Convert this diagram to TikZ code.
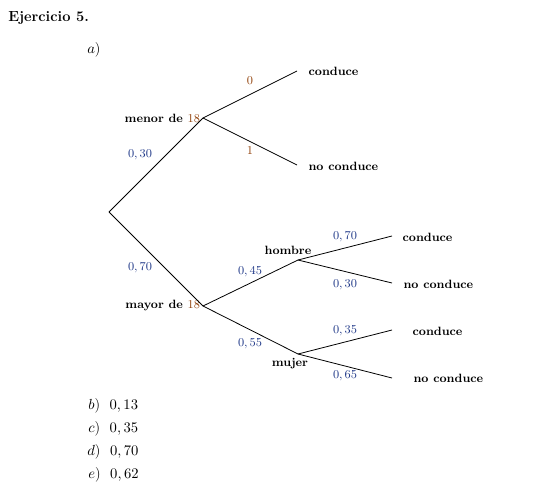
\documentclass[tikz,border=0pt]{standalone}
\usepackage{tikz}
\usetikzlibrary{positioning}
\definecolor{azul}{RGB}{30,55,135}
\definecolor{marron}{RGB}{145,65,10}
\tikzset{
  rama/.style={semithick},
  suceso/.style={font=\small\bfseries, inner sep=1pt},
  prob/.style={font=\small, text=azul, inner sep=1pt},
  probm/.style={font=\small, text=marron, inner sep=1pt},
  item/.style={anchor=west, inner sep=0pt, font=\fontsize{11}{13}\selectfont}
}
\begin{document}
\begin{tikzpicture}[x=0.75pt, y=-0.75pt]
        \useasboundingbox (0,0) rectangle (552,489);

        % Titulo
        \node (titulo) [anchor=west, font=\fontsize{11}{13}\selectfont\bfseries, inner sep=0pt] at (8,18) {Ejercicio 5.};
        \node (a) [item] at (87,50) {$a$)};

        % Nodos del arbol
        \coordinate (raiz) at (109,212);
        \coordinate (menor) at (203,118);
        \coordinate (mayor) at (203,306);
        \coordinate (hombre) at (298,260);
        \coordinate (mujer) at (298,354);
        \coordinate (c1) at (297,71);
        \coordinate (n1) at (297,165);
        \coordinate (c2) at (392,236);
        \coordinate (n2) at (392,283);
        \coordinate (c3) at (392,330);
        \coordinate (n3) at (392,378);

        % Etiquetas de sucesos
        \node (tmenor) [suceso, left=1pt of menor] {menor de \textcolor{marron}{$18$}};
        \node (tmayor) [suceso, left=1pt of mayor] {mayor de \textcolor{marron}{$18$}};
        \node (thombre) [suceso] at (288,250) {hombre};
        \node (tmujer) [suceso] at (290,364) {mujer};
        \node (tc1) [suceso, anchor=west] at (307,71) {conduce};
        \node (tn1) [suceso, anchor=west] at (307,166) {no conduce};
        \node (tc2) [suceso, anchor=west] at (401,237) {conduce};
        \node (tn2) [suceso, anchor=west] at (402,284) {no conduce};
        \node (tc3) [suceso, anchor=west] at (411,331) {conduce};
        \node (tn3) [suceso, anchor=west] at (412,378) {no conduce};

        % Ramas
        \draw [rama] (raiz) -- (menor);
        \draw [rama] (raiz) -- (mayor);
        \draw [rama] (menor) -- (c1);
        \draw [rama] (menor) -- (n1);
        \draw [rama] (mayor) -- (hombre);
        \draw [rama] (mayor) -- (mujer);
        \draw [rama] (hombre) -- (c2);
        \draw [rama] (hombre) -- (n2);
        \draw [rama] (mujer) -- (c3);
        \draw [rama] (mujer) -- (n3);

        % Probabilidades
        \node (p1) [prob] at (140,155) {$0,30$};
        \node (p2) [prob] at (140,268) {$0,70$};
        \node (p3) [probm] at (250,81) {$0$};
        \node (p4) [probm] at (250,151) {$1$};
        \node (p5) [prob] at (250,272) {$0,45$};
        \node (p6) [prob] at (250,344) {$0,55$};
        \node (p7) [prob] at (345,237) {$0,70$};
        \node (p8) [prob] at (345,285) {$0,30$};
        \node (p9) [prob] at (345,331) {$0,35$};
        \node (p10) [prob] at (345,376) {$0,65$};

        % Resto de apartados
        \node (b) [item] at (88,406) {$b$) \ $0,13$};
        \node (c) [item] at (88,429) {$c$) \ $0,35$};
        \node (d) [item] at (87,452) {$d$) \ $0,70$};
        \node (e) [item] at (88,475) {$e$) \ $0,62$};
\end{tikzpicture}
\end{document}
